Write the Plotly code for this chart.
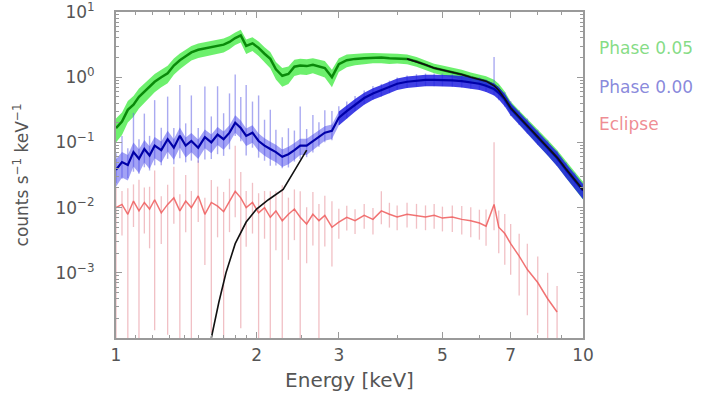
import plotly.graph_objects as go

# ---------------- data ----------------
energy = [1.00, 1.03, 1.06, 1.09, 1.12, 1.15,
          1.18, 1.21, 1.25, 1.29, 1.33, 1.37,
          1.41, 1.45, 1.50, 1.55, 1.60, 1.65,
          1.70, 1.75, 1.80, 1.85, 1.90, 1.96,
          2.02, 2.08, 2.14, 2.20, 2.27, 2.34,
          2.41, 2.48, 2.56, 2.64, 2.72, 2.80,
          2.90, 3.00, 3.12, 3.25, 3.40, 3.55,
          3.70, 3.85, 4.00, 4.20, 4.40, 4.60,
          4.80, 5.00, 5.25, 5.50, 5.75, 6.00,
          6.20, 6.45, 6.60, 6.80, 7.00, 7.30,
          7.60, 8.00, 8.40, 8.80, 9.20, 9.60,
          10.0]

green = [0.166, 0.209, 0.316, 0.380, 0.501, 0.603,
         0.724, 0.851, 1.00, 1.15, 1.51, 1.82,
         2.09, 2.40, 2.63, 2.75, 2.88, 3.02,
         3.16, 3.47, 3.98, 4.37, 3.02, 3.31,
         2.82, 2.29, 1.91, 1.32, 1.05, 1.12,
         1.45, 1.51, 1.48, 1.55, 1.48, 1.38,
         1.00, 1.58, 1.82, 1.91, 1.95, 2.00,
         2.00, 1.95, 1.95, 1.91, 1.74, 1.55,
         1.38, 1.29, 1.20, 1.10, 1.00, 0.933,
         0.871, 0.760, 0.660, 0.500, 0.347, 0.251,
         0.186, 0.126, 0.0871, 0.0603, 0.0398, 0.0275,
         0.0191]
green_err = [0.40, 0.38, 0.36, 0.35, 0.34, 0.33,
             0.32, 0.31, 0.30, 0.30, 0.28, 0.27,
             0.26, 0.25, 0.25, 0.25, 0.24, 0.24,
             0.24, 0.23, 0.22, 0.22, 0.25, 0.24,
             0.25, 0.26, 0.28, 0.30, 0.32, 0.30,
             0.28, 0.27, 0.27, 0.26, 0.27, 0.28,
             0.30, 0.24, 0.22, 0.20, 0.19, 0.18,
             0.18, 0.18, 0.17, 0.17, 0.17, 0.17,
             0.17, 0.17, 0.17, 0.18, 0.18, 0.18,
             0.19, 0.20, 0.20, 0.21, 0.22, 0.23,
             0.24, 0.25, 0.26, 0.27, 0.28, 0.29,
             0.30]

blue = [0.038, 0.050, 0.045, 0.071, 0.056, 0.079,
        0.063, 0.089, 0.076, 0.112, 0.083, 0.126,
        0.089, 0.105, 0.083, 0.120, 0.100, 0.132,
        0.112, 0.141, 0.200, 0.166, 0.126, 0.141,
        0.105, 0.089, 0.079, 0.071, 0.060, 0.066,
        0.076, 0.089, 0.089, 0.105, 0.120, 0.141,
        0.151, 0.240, 0.302, 0.380, 0.479, 0.562,
        0.631, 0.708, 0.794, 0.851, 0.891, 0.912,
        0.912, 0.912, 0.891, 0.871, 0.832, 0.794,
        0.741, 0.661, 0.575, 0.457, 0.331, 0.240,
        0.178, 0.120, 0.083, 0.0575, 0.038, 0.0263,
        0.0182]
blue_band = [0.45, 0.42, 0.42, 0.40, 0.40, 0.38,
             0.38, 0.36, 0.36, 0.35, 0.35, 0.34,
             0.34, 0.33, 0.33, 0.32, 0.32, 0.31,
             0.31, 0.30, 0.30, 0.30, 0.30, 0.30,
             0.30, 0.30, 0.30, 0.30, 0.30, 0.30,
             0.29, 0.28, 0.28, 0.27, 0.26, 0.25,
             0.25, 0.24, 0.23, 0.22, 0.21, 0.20,
             0.20, 0.20, 0.20, 0.20, 0.20, 0.20,
             0.20, 0.20, 0.20, 0.20, 0.20, 0.20,
             0.20, 0.21, 0.21, 0.22, 0.22, 0.23,
             0.23, 0.24, 0.24, 0.25, 0.25, 0.26,
             0.26]
blue_up = [1.8, 2.5, 1.8, 4.0, 2.0, 3.5,
           2.0, 5.0, 2.2, 4.5, 2.0, 6.0,
           2.2, 5.0, 2.0, 6.0, 2.5, 5.5,
           2.5, 4.0, 5.5, 3.0, 6.0, 3.0,
           5.0, 2.5, 4.0, 2.2, 2.0, 2.5,
           2.0, 4.0, 1.8, 2.5, 1.7, 2.2,
           2.0, 1.5, 1.4, 1.35, 1.3, 1.3,
           1.25, 1.25, 1.25, 1.25, 1.25, 1.25,
           1.25, 1.25, 1.25, 1.25, 1.25, 1.25,
           1.25, 3.1, 1.3, 1.3, 1.3, 1.3,
           1.3, 1.3, 1.3, 1.3, 1.3, 1.3,
           1.3]
blue_dn = [1.6, 1.8, 1.6, 2.0, 1.7, 1.9,
           1.7, 2.0, 1.7, 2.0, 1.8, 2.2,
           1.8, 2.0, 1.7, 2.2, 1.8, 2.0,
           1.8, 1.8, 1.6, 1.6, 2.0, 1.7,
           1.8, 1.7, 1.8, 1.6, 1.5, 1.6,
           1.5, 1.6, 1.5, 1.5, 1.4, 1.4,
           1.4, 1.3, 1.3, 1.25, 1.25, 1.25,
           1.25, 1.25, 1.25, 1.25, 1.25, 1.25,
           1.25, 1.25, 1.25, 1.25, 1.25, 1.25,
           1.25, 1.25, 1.3, 1.3, 1.3, 1.3,
           1.3, 1.3, 1.3, 1.3, 1.3, 1.3,
           1.3]

red = [0.0100, 0.0112, 0.0079, 0.0126, 0.0089, 0.0120,
       0.0095, 0.0132, 0.0083, 0.0112, 0.0141, 0.0089,
       0.0126, 0.0100, 0.0151, 0.0079, 0.0120, 0.0105,
       0.0087, 0.0126, 0.0178, 0.0141, 0.0100, 0.0120,
       0.0083, 0.0100, 0.0071, 0.0089, 0.0063, 0.0079,
       0.0095, 0.0071, 0.0056, 0.0079, 0.0063, 0.0076,
       0.0050, 0.0060, 0.0071, 0.0063, 0.0076, 0.0066,
       0.0089, 0.0079, 0.0072, 0.0079, 0.0076, 0.0072,
       0.0076, 0.0069, 0.0072, 0.0066, 0.0063, 0.0058,
       0.0052, 0.0112, 0.0050, 0.0040, 0.0028, 0.0018,
       0.00112, 0.00071, 0.00040, 0.00025, None, None,
       None]
red_up = [2.0, 1.6, 2.5, 1.8, 3.0, 1.7,
          2.2, 2.8, 1.8, 2.0, 3.0, 1.8,
          2.5, 1.8, 3.5, 1.8, 2.2, 2.0,
          2.0, 2.2, 5.0, 2.5, 1.8, 2.0,
          2.0, 1.8, 2.5, 2.0, 3.5, 1.8,
          2.0, 2.5, 1.8, 2.2, 1.8, 2.0,
          2.5, 1.6, 1.5, 1.5, 1.5, 1.5,
          2.0, 1.5, 1.5, 1.5, 1.5, 1.5,
          1.5, 1.5, 1.5, 1.6, 1.6, 1.6,
          1.8, 9.0, 1.8, 2.0, 2.0, 2.2,
          2.5, 2.5, 2.5, 2.5, 1.0, 1.0,
          1.0]
red_dn = [100, 3, 100, 2.5, 100, 3,
          4, 100, 3, 100, 2.5, 100,
          3, 100, 2.5, 6, 100, 3,
          100, 3, 2.5, 100, 4, 3,
          100, 3, 100, 4, 100, 5,
          3, 100, 4, 3, 100, 3,
          4, 1.8, 1.6, 1.6, 1.6, 1.7,
          1.6, 1.6, 1.6, 1.6, 1.6, 1.6,
          1.6, 1.6, 1.7, 1.7, 1.8, 1.8,
          2.0, 2.5, 2.5, 3, 3, 4,
          5, 6, 5, 4, 1, 1,
          1]

model_e = [1.60, 1.66, 1.72, 1.80, 1.90, 2.00, 2.12, 2.28, 2.40, 2.56,
           None,
           4.20, 4.40, 4.60, 4.80, 5.00, 5.25, 5.50, 5.75, 6.00, 6.20,
           6.45, 6.60, 6.80, 7.00, 7.30, 7.60, 8.00, 8.40, 8.80, 9.20,
           9.60, 10.0]
model = [1.0e-4, 3.5e-4, 1.0e-3, 2.8e-3, 6.0e-3, 9.5e-3, 0.0132, 0.019, 0.035, 0.076,
         None,
         1.91, 1.74, 1.55, 1.38, 1.29, 1.20, 1.10, 1.00, 0.93, 0.87,
         0.74, 0.63, 0.47, 0.34, 0.245, 0.18, 0.123, 0.085, 0.059, 0.039,
         0.027, 0.0187]

x_ticks = [1, 2, 3, 5, 7, 10]
x_ticktext = ["1", "2", "3", "5", "7", "10"]
y_ticks = [10, 1, 0.1, 0.01, 0.001]
y_ticktext = ["10<sup>1</sup>", "10<sup>0</sup>", "10<sup>−1</sup>",
              "10<sup>−2</sup>", "10<sup>−3</sup>"]
legend_labels = ["Phase 0.05", "Phase 0.00", "Eclipse"]

FONT = "DejaVu Sans"
SPLIT = 37  # index where the blue band turns from the faint soft part to the solid hard part

# ---------------- figure ----------------
fig = go.Figure()

# eclipse (red)
red_e = [e for e, v in zip(energy, red) if v is not None]
red_v = [v for v in red if v is not None]
red_plus = [v * (u - 1) for v, u in zip(red, red_up) if v is not None]
red_minus = [v * (1 - 1 / d) for v, d in zip(red, red_dn) if v is not None]
fig.add_trace(go.Scatter(
    x=red_e, y=red_v, mode="lines",
    line=dict(color="rgba(238,90,90,0.85)", width=1.5),
    error_y=dict(type="data", symmetric=False, array=red_plus, arrayminus=red_minus,
                 color="rgba(228,130,140,0.5)", thickness=1.3, width=0),
    showlegend=False))

# phase 1 (green)
g_hi = [v * (1 + f) for v, f in zip(green, green_err)]
g_lo = [v * (1 - f) for v, f in zip(green, green_err)]
fig.add_trace(go.Scatter(x=energy, y=g_hi, mode="lines", line=dict(width=0),
                         showlegend=False, hoverinfo="skip"))
fig.add_trace(go.Scatter(x=energy, y=g_lo, mode="lines", line=dict(width=0),
                         fill="tonexty", fillcolor="rgba(60,235,60,0.75)",
                         showlegend=False, hoverinfo="skip"))
fig.add_trace(go.Scatter(x=energy, y=green, mode="lines",
                         line=dict(color="#0a8a0a", width=2.5), showlegend=False))

# phase 2 (blue)
b_plus = [v * (u - 1) for v, u in zip(blue, blue_up)]
b_minus = [v * (1 - 1 / d) for v, d in zip(blue, blue_dn)]
fig.add_trace(go.Scatter(
    x=energy, y=blue, mode="lines", line=dict(width=0),
    error_y=dict(type="data", symmetric=False, array=b_plus, arrayminus=b_minus,
                 color="rgba(100,100,230,0.55)", thickness=1.4, width=0),
    showlegend=False, hoverinfo="skip"))
b_hi = [v * (1 + f) for v, f in zip(blue, blue_band)]
b_lo = [v * (1 - f) for v, f in zip(blue, blue_band)]
for sl, col in ((slice(0, SPLIT + 1), "rgba(70,70,235,0.5)"),
                (slice(SPLIT, None), "rgba(30,30,225,0.85)")):
    fig.add_trace(go.Scatter(x=energy[sl], y=b_hi[sl], mode="lines", line=dict(width=0),
                             showlegend=False, hoverinfo="skip"))
    fig.add_trace(go.Scatter(x=energy[sl], y=b_lo[sl], mode="lines", line=dict(width=0),
                             fill="tonexty", fillcolor=col,
                             showlegend=False, hoverinfo="skip"))
fig.add_trace(go.Scatter(x=energy, y=blue, mode="lines",
                         line=dict(color="#0000a8", width=2.2), showlegend=False))

# model (black)
fig.add_trace(go.Scatter(x=model_e, y=model, mode="lines", connectgaps=False,
                         line=dict(color="#111111", width=1.6), showlegend=False))

axis_common = dict(showline=True, linecolor="#9a9a9a", linewidth=2, mirror="ticks",
                   ticks="inside", ticklen=6, tickcolor="#9a9a9a", showgrid=False,
                   zeroline=False, automargin=False, ticklabeloverflow="allow",
                   tickfont=dict(size=17, color="#555555", family=FONT))

fig.update_xaxes(type="log", range=[0, 1], tickvals=x_ticks, ticktext=x_ticktext,
                 minor=dict(ticks="inside", ticklen=3, tickcolor="#9a9a9a",
                            tickvals=[1.1, 1.2, 1.3, 1.4, 1.5, 1.6, 1.7, 1.8, 1.9,
                                      2.5, 4, 6, 8, 9]),
                 ticklabelstandoff=1,
                 title=dict(text="Energy [keV]", font=dict(size=20, color="#555555",
                                                           family=FONT),
                            standoff=9),
                 **axis_common)
fig.update_yaxes(type="log", range=[-4, 1.0], tickvals=y_ticks, ticktext=y_ticktext,
                 minor=dict(ticks="inside", ticklen=3, tickcolor="#9a9a9a",
                            dtick="D1", showgrid=False),
                 ticklabelstandoff=16,
                 title=dict(text="counts s<sup>−1</sup> keV<sup>−1</sup>",
                            font=dict(size=17, color="#555555", family=FONT),
                            standoff=22),
                 **axis_common)

leg_colors = ["rgba(80,205,80,0.7)", "rgba(70,70,200,0.65)", "rgba(232,90,100,0.7)"]
leg_y = [0.89, 0.77, 0.655]
for lab, col, yy in zip(legend_labels, leg_colors, leg_y):
    fig.add_annotation(xref="paper", yref="paper", x=1.03, y=yy, text=lab,
                       showarrow=False, xanchor="left", yanchor="middle",
                       font=dict(size=17, color=col, family=FONT))

fig.update_layout(width=704, height=396, margin=dict(l=116, r=121, t=12, b=58),
                  plot_bgcolor="white", paper_bgcolor="white", showlegend=False)

# remove the page's default body margin so the figure fills the window exactly
fig.write_html("out.html", config={"displayModeBar": False},
               post_script="document.body.style.margin='0';")
